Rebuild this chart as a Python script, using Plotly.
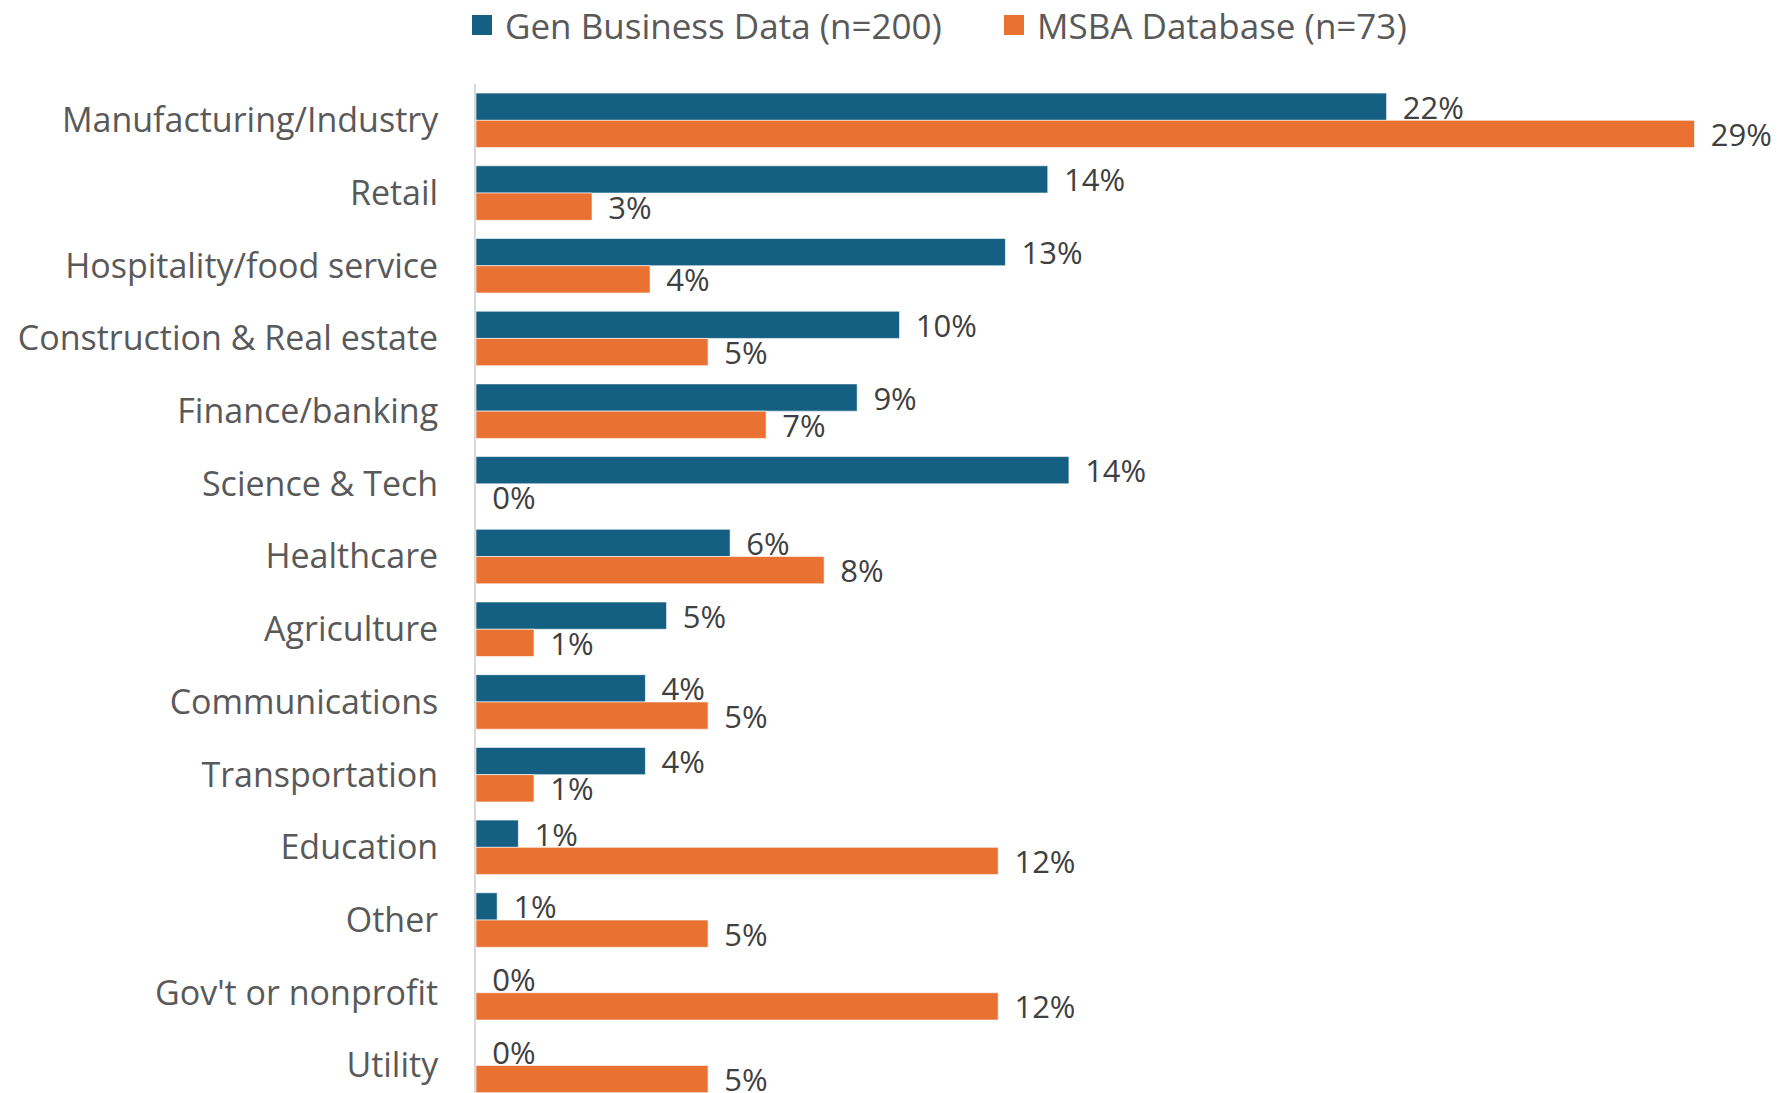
import math
import plotly.graph_objects as go

categories = [
    "Manufacturing/Industry", "Retail", "Hospitality/food service",
    "Construction & Real estate", "Finance/banking", "Science & Tech",
    "Healthcare", "Agriculture", "Communications", "Transportation",
    "Education", "Other", "Gov't or nonprofit", "Utility",
]
gen_business = [21.5, 13.5, 12.5, 10.0, 9.0, 14.0, 6.0, 4.5, 4.0, 4.0, 1.0, 0.5, 0.0, 0.0]
msba = [28.77, 2.74, 4.11, 5.48, 6.85, 0.0, 8.22, 1.37, 5.48, 1.37, 12.33, 5.48, 12.33, 5.48]

series_names = ["Gen Business Data (n=200)", "MSBA Database (n=73)"]
colors = ["#156082", "#E97132"]

FONT = "Open Sans"
PAD = "\u2009\u00a0"


def labels(vals):
    return [PAD + f"{math.floor(v + 0.5 + 1e-9):d}%" for v in vals]


fig = go.Figure()
for name, vals, col in zip(series_names, [gen_business, msba], colors):
    fig.add_trace(go.Bar(
        y=categories, x=vals, name=name, orientation="h",
        marker=dict(color=col, line=dict(color="rgba(255,255,255,0.6)", width=1)),
        text=labels(vals), textposition="outside", cliponaxis=False,
        constraintext="none",
        textfont=dict(family=FONT, size=31, color="#404040"),
        hoverinfo="skip", showlegend=False,
    ))

# legend drawn as squares + labels above the plot (pixel offsets from plot corner)
legend_pos = [(-4, 27), (528, 559)]
for name, col, (sx, tx) in zip(series_names, colors, legend_pos):
    fig.add_shape(
        type="rect", xref="paper", yref="paper",
        xsizemode="pixel", ysizemode="pixel", xanchor=0, yanchor=1,
        x0=sx, x1=sx + 20, y0=49, y1=69,
        fillcolor=col, line=dict(width=0),
    )
    fig.add_annotation(
        text=name, xref="paper", yref="paper", x=0, y=1,
        xshift=tx, yshift=59, xanchor="left", yanchor="middle",
        showarrow=False,
        font=dict(family=FONT, size=35, color="#595959"),
    )

fig.update_layout(
    width=1774, height=1085,
    barmode="group", bargap=0.25, bargroupgap=0,
    plot_bgcolor="white", paper_bgcolor="white",
    margin=dict(l=468, r=10, t=76, b=0),
    font=dict(family=FONT, color="#595959"),
    showlegend=False,
    xaxis=dict(
        range=[0, 30.6], showgrid=False, zeroline=False,
        showticklabels=False, showline=False, ticks="",
    ),
    yaxis=dict(
        range=[13.379, -0.5], showgrid=False, zeroline=False,
        showline=True, linecolor="#D9D9D9", linewidth=2,
        ticks="outside", ticklen=29, tickcolor="rgba(0,0,0,0)",
        tickfont=dict(family=FONT, size=34, color="#595959"),
        automargin=False,
    ),
)

fig.write_html("out.html")
